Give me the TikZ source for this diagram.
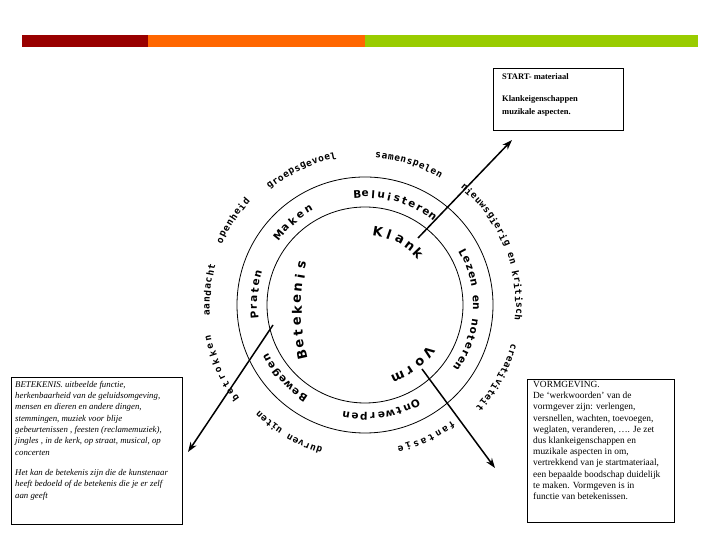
\documentclass[tikz,border=0pt]{standalone}
\usepackage{fontspec}
\setmainfont{Liberation Serif}
\newfontfamily\ringfont{DejaVu Sans}
\newfontfamily\outfont{DejaVu Sans Mono}
\usetikzlibrary{calc,arrows.meta}
\definecolor{barred}{HTML}{990000}
\definecolor{barorange}{HTML}{FF6600}
\definecolor{bargreen}{HTML}{99CC00}
% letters placed along a circle, clockwise, tops outward
\newcommand{\cwrd}[6]{%
  \foreach \ch [count=\ci] in {#6} {\xdef\cwn{\ci}}%
  \foreach \ch [count=\ci] in {#6} {%
    \pgfmathsetmacro\cwa{#4+(\ci-1)*(#5-#4)/(\cwn-1)}%
    \node[#1, rotate=\cwa-90] at ($(#2)+(\cwa:#3)$) {\ch};%
  }%
}
\begin{document}
\begin{tikzpicture}[x=1pt,y=1pt,
  ringw/.style={font=\ringfont\bfseries\fontsize{10.5}{10.5}\selectfont, inner sep=0pt},
  innw/.style={font=\ringfont\bfseries\fontsize{13}{13}\selectfont, inner sep=0pt},
  outw/.style={font=\outfont\bfseries\fontsize{9.5}{9.5}\selectfont, inner sep=0pt},
  circ/.style={line width=0.8pt},
  infobox/.style={draw, line width=0.8pt},
  boxtext/.style={anchor=north west, inner sep=0pt, align=left},
  arr/.style={-{Stealth[length=10pt,width=7pt]}, line width=1.5pt}]
\useasboundingbox (0,0) rectangle (720,540);
% top bar
\fill[barred] (22,493) rectangle (148,505);
\fill[barorange] (148,493) rectangle (365,505);
\fill[bargreen] (365,493) rectangle (698,505);
% circles
\coordinate (C) at (365,235);
\draw[circ] (C) circle (128);
\draw[circ] (C) circle (98);
% ring words
\cwrd{ringw}{C}{111}{94}{52.6}{B,e,l,u,i,s,t,e,r,e,n}
\cwrd{ringw}{C}{111}{141}{120.6}{M,a,k,e,n}
\cwrd{ringw}{C}{111}{185}{164}{P,r,a,t,e,n}
\cwrd{ringw}{C}{111}{236}{208}{B,e,w,e,g,e,n}
\cwrd{ringw}{C}{111}{-63}{-99.8}{O,n,t,w,e,r,p,e,n}
\cwrd{ringw}{C}{111}{28}{-33.7}{L,e,z,e,n,{},e,n,{},n,o,t,e,r,e,n}
% inner words
\cwrd{innw}{C}{74}{80}{44}{K,l,a,n,k}
\cwrd{innw}{C}{79}{-36.4}{-65.4}{V,o,r,m}
\coordinate (BC) at (500,230);
\cwrd{innw}{BC}{203}{192.7}{167.3}{B,e,t,e,k,e,n,i,s}
% outer words
\cwrd{outw}{C}{150}{85}{60.4}{s,a,m,e,n,s,p,e,l,e,n}
\cwrd{outw}{C}{152}{128.4}{102}{g,r,o,e,p,s,g,e,v,o,e,l}
\cwrd{outw}{C}{158}{156}{139}{o,p,e,n,h,e,i,d}
\cwrd{outw}{C}{158}{183}{166}{a,a,n,d,a,c,h,t}
\cwrd{outw}{C}{160}{215.7}{192}{b,e,t,r,o,k,k,e,n}
\cwrd{outw}{C}{152}{-107.6}{-134}{d,u,r,v,e,n,{},u,i,t,e,n}
\cwrd{outw}{C}{148}{-54}{-76}{f,a,n,t,a,s,i,e}
\cwrd{outw}{C}{154}{-15.8}{-41.7}{c,r,e,a,t,i,v,i,t,e,i,t}
\cwrd{outw}{C}{154}{49.8}{-4.8}{n,i,e,u,w,s,g,i,e,r,i,g,{},e,n,{},k,r,i,t,i,s,c,h}
% arrows
\coordinate (a1s) at (418,302); \coordinate (a1e) at (512,400);
\coordinate (a2s) at (273,215); \coordinate (a2e) at (188,88);
\coordinate (a3s) at (422,171); \coordinate (a3e) at (495,72);
\draw[arr] (a1s) -- (a1e);
\draw[arr] (a2s) -- (a2e);
\draw[arr] (a3s) -- (a3e);
% boxes
\draw[infobox] (493,410) rectangle (623,472);
\node[boxtext, font=\bfseries\fontsize{8.5}{13}\selectfont] (starttxt) at (502,467)
  {START- materiaal\\[9pt]Klankeigenschappen\\muzikale aspecten.};
\draw[infobox] (11,16) rectangle (182,163);
\node[boxtext, font=\itshape\fontsize{8.8}{11.3}\selectfont] (bettxt) at (15,159)
  {BETEKENIS. uitbeelde functie,\\herkenbaarheid van de geluidsomgeving,\\mensen en dieren en andere dingen,\\stemmingen, muziek voor blije\\gebeurtenissen , feesten (reclamemuziek),\\jingles , in de kerk, op straat, musical, op\\concerten\\[9pt]Het kan de betekenis zijn die de kunstenaar\\heeft bedoeld of de betekenis die je er zelf\\aan geeft};
\draw[infobox] (527,18) rectangle (674,161);
\node[boxtext, font=\fontsize{9.4}{11.2}\selectfont] (vormtxt) at (533,159)
  {VORMGEVING.\\De `werkwoorden' van de\\vormgever zijn: verlengen,\\versnellen, wachten, toevoegen,\\weglaten, veranderen, \dots. Je zet\\dus klankeigenschappen en\\muzikale aspecten in om,\\vertrekkend van je startmateriaal,\\een bepaalde boodschap duidelijk\\te maken. Vormgeven is in\\functie van betekenissen.};
\end{tikzpicture}
\end{document}
